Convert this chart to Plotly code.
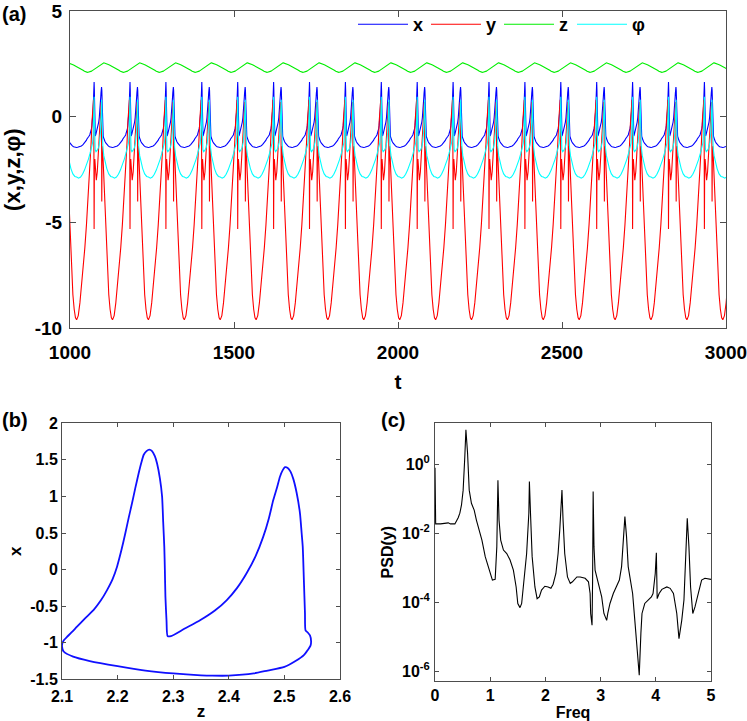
import plotly.graph_objects as go

# ---------------- Panel (a): one digitised cycle of the periodic orbit ----------------
# phase tau measured from the minimum of y; the orbit repeats with period T_PERIOD
T_PERIOD = 109.45
T_START = 1020.2
N_CYCLES = range(-1, 19)

tau_xz = [0, 3, 9, 14.5, 19.5, 24, 27, 29.5, 31.5, 33, 35, 37.5, 40, 42, 44, 45.5, 46.7,
          47.7, 48.6, 49.4, 50.1, 50.7, 51.2, 51.6, 52.0, 52.35, 52.65, 52.9, 53.1, 53.3,
          53.5, 53.7, 53.9, 54.1, 54.3, 54.55, 54.8, 55.05, 55.35, 55.7, 56.2, 57, 59,
          61.2, 63.5, 65.5, 67.3, 69, 70.5, 71.8, 72.8, 73.6, 74.3, 74.9, 75.5, 76.0, 76.3,
          76.6, 76.9, 77.2, 77.5, 77.75, 78.0, 78.4, 78.9, 79.4, 80.2, 81, 82, 83, 84.5,
          86.5, 89.5, 93, 96.5, 100, 106]
x_cycle = [-1.45, -1.445, -1.42, -1.38, -1.32, -1.25, -1.19, -1.12, -1.05, -1.0, -0.96,
           -0.92, -0.86, -0.78, -0.67, -0.55, -0.42, -0.28, -0.13, 0.04, 0.27, 0.5, 0.71,
           0.91, 1.12, 1.32, 1.47, 1.57, 1.62, 1.64, 1.62, 1.55, 1.45, 1.25, 1.0, 0.65, 0.31,
           0.0, -0.37, -0.7, -0.91, -0.91, -0.81, -0.69, -0.56, -0.42, -0.25, -0.05, 0.18,
           0.45, 0.7, 0.95, 1.13, 1.27, 1.36, 1.40, 1.39, 1.34, 1.24, 1.05, 0.77, 0.5, 0.31,
           -0.14, -0.6, -0.83, -0.86, -0.9, -0.98, -1.04, -1.1, -1.17, -1.25, -1.33, -1.38,
           -1.42, -1.45]
z_cycle = [2.37, 2.35, 2.3, 2.25, 2.2, 2.15, 2.12, 2.103, 2.1, 2.101, 2.104, 2.109, 2.117,
           2.127, 2.141, 2.157, 2.170, 2.181, 2.191, 2.199, 2.207, 2.214, 2.220, 2.226,
           2.232, 2.238, 2.243, 2.247, 2.252, 2.257, 2.262, 2.267, 2.271, 2.276, 2.280,
           2.282, 2.284, 2.285, 2.286, 2.288, 2.290, 2.296, 2.32, 2.349, 2.375, 2.396,
           2.415, 2.432, 2.448, 2.462, 2.472, 2.480, 2.487, 2.492, 2.497, 2.501, 2.506,
           2.511, 2.516, 2.522, 2.528, 2.531, 2.533, 2.535, 2.537, 2.538, 2.542, 2.546,
           2.548, 2.547, 2.542, 2.535, 2.52, 2.5, 2.47, 2.445, 2.4]

tau_y = [0, 5, 10, 15, 20, 25, 30, 35, 40, 44, 47, 49.5, 51.5, 52.4, 53.3, 54.2, 55.5,
         57.5, 60, 63, 66.5, 69.5, 72.5, 75, 75.9, 76.7, 77.6, 79, 81, 84, 87, 90, 94,
         98, 102, 106]
y_cycle = [-9.6, -9.4, -8.8, -8.0, -7.1, -6.2, -5.1, -3.9, -2.6, -1.3, -0.2, 0.5, 0.8,
           0.2, -5.3, -2.2, -2.0, -2.8, -3.0, -2.6, -1.6, -0.5, 0.4, 0.7, -0.2, -4.0,
           -1.5, -1.4, -2.2, -3.5, -4.8, -6.0, -7.3, -8.4, -9.1, -9.5]

tau_phi = [0, 6, 12, 18, 24, 30, 36, 41, 45, 48.5, 50.5, 52, 53.3, 54.2, 55.2, 56.5, 59,
           63, 67, 70, 72.5, 74.3, 75.6, 76.5, 77.4, 78.4, 80, 83, 87, 92, 98, 104]
phi_cycle = [-2.85, -2.9, -2.85, -2.72, -2.52, -2.28, -2.0, -1.72, -1.5, -1.25, -0.85,
             -0.2, 0.95, 0.0, -1.0, -1.55, -1.65, -1.58, -1.45, -1.2, -0.75, -0.15, 0.45,
             0.8, 0.0, -0.9, -1.45, -1.85, -2.15, -2.45, -2.7, -2.82]

a_xticks = [1000, 1500, 2000, 2500, 3000]
a_yticks = [-10, -5, 0, 5]
a_yticktext = ["-10", "-5", "0", "5"]
series_names = ["x", "y", "z", "φ"]
series_colors = ["#0000ff", "#ff0000", "#00ee00", "#00ffff"]

# ---------------- Panel (b) ticks ----------------
b_xticks = [2.1, 2.2, 2.3, 2.4, 2.5, 2.6]
b_xticktext = ["2.1", "2.2", "2.3", "2.4", "2.5", "2.6"]
b_yticks = [-1.5, -1, -0.5, 0, 0.5, 1, 1.5, 2]
b_yticktext = ["-1.5", "-1", "-0.5", "0", "0.5", "1", "1.5", "2"]

# ---------------- Panel (c): power spectral density of y ----------------
freq = [0, 0.012, 0.1, 0.2, 0.24, 0.28, 0.36, 0.42, 0.45, 0.48, 0.51, 0.54, 0.56, 0.59,
        0.62, 0.66, 0.71, 0.75, 0.82, 0.85, 0.91, 0.94, 1.0, 1.04, 1.09, 1.12, 1.14, 1.16,
        1.19, 1.24, 1.30, 1.36, 1.42, 1.47, 1.50, 1.54, 1.57, 1.61, 1.66, 1.70, 1.71, 1.73,
        1.76, 1.81, 1.85, 1.89, 1.93, 1.99, 2.05, 2.10, 2.14, 2.19, 2.23, 2.26, 2.30, 2.32,
        2.35, 2.40, 2.45, 2.49, 2.57, 2.63, 2.72, 2.78, 2.81, 2.82, 2.845, 2.855, 2.865,
        2.88, 2.90, 2.93, 2.97, 3.02, 3.06, 3.11, 3.13, 3.17, 3.23, 3.29, 3.34, 3.38, 3.41,
        3.44, 3.47, 3.50, 3.54, 3.58, 3.62, 3.66, 3.70, 3.73, 3.75, 3.80, 3.86, 3.92, 3.95,
        3.99, 4.01, 4.025, 4.06, 4.11, 4.20, 4.26, 4.32, 4.38, 4.42, 4.47, 4.51, 4.54, 4.57,
        4.60, 4.63, 4.67, 4.71, 4.77, 4.83, 4.89, 5.0]
psd_exp = [-0.1, -1.73, -1.73, -1.72, -1.70, -1.73, -1.73, -1.55, -1.42, -1.18, -0.75,
           0.22, 1.0, 0.32, -0.75, -1.13, -1.33, -1.62, -2.0, -2.2, -2.68, -2.83, -3.17,
           -3.36, -3.34, -2.39, -0.46, -1.62, -2.2, -2.49, -2.59, -2.78, -3.07, -3.56,
           -4.04, -4.16, -4.04, -3.36, -2.59, -1.42, -0.5, -1.42, -2.68, -3.56, -3.9, -3.85,
           -3.65, -3.54, -3.56, -3.6, -3.48, -3.17, -2.59, -1.91, -0.75, -1.62, -2.59,
           -3.27, -3.46, -3.41, -3.27, -3.27, -3.31, -3.41, -3.75, -4.33, -4.67, -3.36,
           -0.79, -2.39, -3.07, -3.27, -3.51, -3.85, -4.33, -4.53, -4.33, -4.04, -3.75,
           -3.56, -3.36, -2.97, -2.30, -1.52, -2.1, -2.97, -3.36, -3.75, -4.53, -5.3, -6.12,
           -4.9, -4.33, -4.04, -3.94, -3.85, -3.75, -3.17, -2.57, -3.9, -3.75, -3.63, -3.56,
           -3.6, -3.75, -4.33, -5.06, -4.53, -3.94, -2.97, -1.57, -2.39, -3.56, -4.33,
           -4.14, -3.75, -3.36, -3.31, -3.34]
c_yticks_exp = [0, -2, -4, -6]
c_yticktext = ["10<sup>0</sup>", "10<sup>-2</sup>", "10<sup>-4</sup>", "10<sup>-6</sup>"]
c_xticks = [0, 1, 2, 3, 4, 5]

# ---------------- build ----------------
def tile(tau, vals):
    ts, vs = [], []
    for k in N_CYCLES:
        for a, v in zip(tau, vals):
            ts.append(T_START + k * T_PERIOD + a)
            vs.append(v)
    return ts, vs

W, H = 747, 721
FONT = "Liberation Sans, Arial, sans-serif"
AX = "#4d4d4d"

fig = go.Figure()
t_x, x_full = tile(tau_xz, x_cycle)
t_y, y_full = tile(tau_y, y_cycle)
t_z, z_full = tile(tau_xz, z_cycle)
t_p, p_full = tile(tau_phi, phi_cycle)
for (tt, vv), name, col in zip([(t_x, x_full), (t_y, y_full), (t_z, z_full), (t_p, p_full)],
                               series_names, series_colors):
    fig.add_trace(go.Scatter(x=tt, y=vv, mode="lines", name=name,
                             line=dict(color=col, width=1.1), xaxis="x", yaxis="y"))

fig.add_trace(go.Scatter(x=z_cycle + [z_cycle[0]], y=x_cycle + [x_cycle[0]], mode="lines",
                         line=dict(color="#1010ff", width=1.8, shape="spline",
                                   smoothing=0.6),
                         showlegend=False, xaxis="x2", yaxis="y2"))
fig.add_trace(go.Scatter(x=freq, y=[10 ** e for e in psd_exp], mode="lines",
                         line=dict(color="black", width=1.1), showlegend=False,
                         xaxis="x3", yaxis="y3"))


def ax_style(size, ticklen, standoff):
    return dict(showline=True, linecolor=AX, linewidth=1, mirror="ticks", ticks="inside",
                ticklen=ticklen, tickcolor=AX, tickwidth=1, showgrid=False, zeroline=False,
                automargin=False, ticklabeloverflow="allow",
                tickfont=dict(family=FONT, size=size, color="black", weight="bold"),
                ticklabelstandoff=standoff)


def dom_x(l, r):
    return [l / W, r / W]


def dom_y(top, bottom):
    return [1 - bottom / H, 1 - top / H]


def title_font(s):
    return dict(family=FONT, size=s, color="black", weight="bold")


fig.update_layout(
    width=W, height=H, margin=dict(l=0, r=0, t=0, b=0, autoexpand=False),
    paper_bgcolor="white", plot_bgcolor="white",
    xaxis=dict(domain=dom_x(70, 726), range=[1000, 3000], tickvals=a_xticks,
               title=dict(text="t", font=title_font(21), standoff=12),
               anchor="y", **ax_style(19, 6, 7)),
    yaxis=dict(domain=dom_y(11, 328.3), range=[-10, 5], tickvals=a_yticks,
               ticktext=a_yticktext,
               title=dict(text="(x,y,z,φ)", font=title_font(22), standoff=11),
               anchor="x", **ax_style(19, 6, 3)),
    xaxis2=dict(domain=dom_x(62, 340), range=[2.1, 2.6], tickvals=b_xticks,
                ticktext=b_xticktext, title=dict(text="z", font=title_font(17), standoff=11),
                anchor="y2", **ax_style(16, 4, 2)),
    yaxis2=dict(domain=dom_y(423.3, 679.3), range=[-1.5, 2], tickvals=b_yticks,
                ticktext=b_yticktext, title=dict(text="x", font=title_font(17), standoff=4),
                anchor="x2", **ax_style(16, 4, 0)),
    xaxis3=dict(domain=dom_x(435, 711), range=[0, 5], tickvals=c_xticks,
                title=dict(text="Freq", font=title_font(16), standoff=14),
                anchor="y3", **ax_style(16, 4, 0)),
    yaxis3=dict(domain=dom_y(423.3, 681), type="log", range=[-6.29, 1.19],
                tickvals=[10 ** e for e in c_yticks_exp], ticktext=c_yticktext,
                title=dict(text="PSD(y)", font=title_font(16), standoff=4),
                anchor="x3", **ax_style(16, 4, 1)),
    legend=dict(orientation="h", x=(360 - 7) / W, y=1 - 6 / H, xanchor="left",
                yanchor="top", bgcolor="rgba(0,0,0,0)",
                font=dict(family=FONT, size=18, color="black", weight="bold"),
                itemwidth=50, entrywidth=8, entrywidthmode="pixels", tracegroupgap=0),
    annotations=[
        dict(text="(a)", x=0, y=1 - 14 / H, xref="paper", yref="paper",
             xanchor="left", yanchor="middle", showarrow=False, font=title_font(20)),
        dict(text="(b)", x=0, y=1 - 420 / H, xref="paper", yref="paper",
             xanchor="left", yanchor="middle", showarrow=False, font=title_font(20)),
        dict(text="(c)", x=379 / W, y=1 - 420 / H, xref="paper",
             yref="paper", xanchor="left", yanchor="middle", showarrow=False,
             font=title_font(20)),
    ],
)

# let the figure fill the window from its top-left corner (no default body margin)
fig.write_html("out.html", config={"displayModeBar": False},
               post_script="document.body.style.margin='0px';"
                           "document.body.style.overflow='hidden';")
